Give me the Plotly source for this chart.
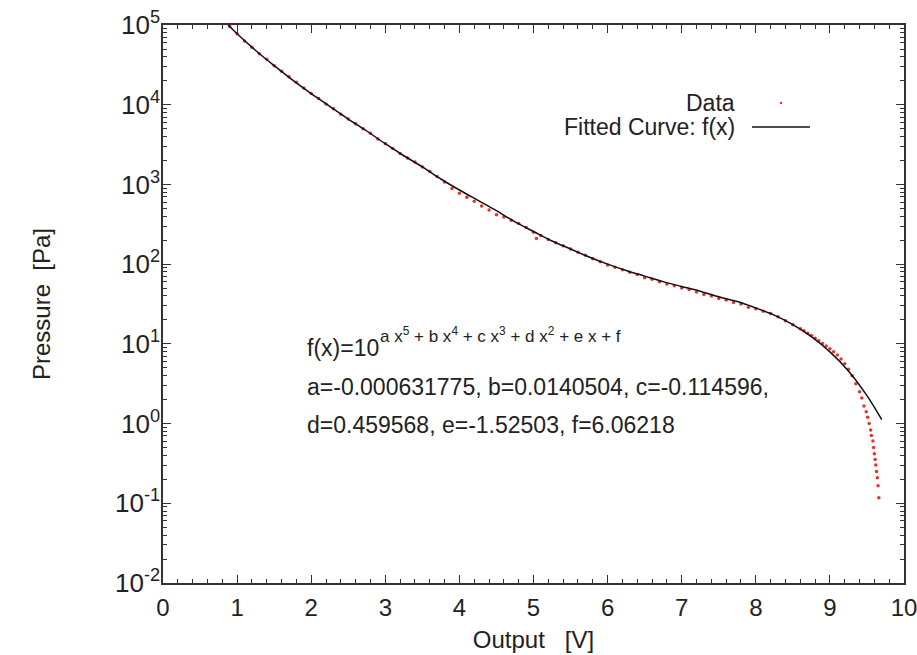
import plotly.graph_objects as go

# ---------------- data ----------------
data_x = [0.9, 1.0, 1.1, 1.2, 1.3, 1.4, 1.5, 1.6, 1.7, 1.8, 1.9, 2.0, 2.1, 2.2, 2.3, 2.4,
          2.5, 2.6, 2.7, 2.8, 2.9, 3.0, 3.1, 3.2, 3.3, 3.4, 3.5, 3.6, 3.7, 3.8, 3.9, 4.0,
          4.1, 4.2, 4.3, 4.4, 4.5, 4.6, 4.7, 4.8, 4.9, 5.0, 5.04, 5.1, 5.2, 5.3, 5.4, 5.5,
          5.6, 5.7, 5.8, 5.9, 6.0, 6.1, 6.2, 6.3, 6.4, 6.5, 6.6, 6.7, 6.8, 6.9, 7.0, 7.1,
          7.2, 7.3, 7.4, 7.5, 7.6, 7.7, 7.8, 7.9, 8.0, 8.1, 8.2, 8.3, 8.4, 8.5, 8.6, 8.65,
          8.7, 8.75, 8.8, 8.85, 8.9, 8.95, 9.0, 9.05, 9.1, 9.15, 9.2, 9.25, 9.3, 9.35, 9.4,
          9.43, 9.46, 9.49, 9.51, 9.53, 9.55, 9.56, 9.58, 9.59, 9.60, 9.61, 9.62, 9.63, 9.64,
          9.65, 9.66]
data_p = [95500, 77600, 63100, 52500, 43700, 37200, 30900, 26300, 22400, 19100, 16200,
          13800, 12000, 10200, 8910, 7590, 6610, 5750, 5010, 4370, 3720, 3240, 2820, 2450,
          2140, 1910, 1660, 1450, 1260, 1070, 891, 776, 692, 617, 537, 479, 417, 389, 355,
          324, 288, 251, 209, 229, 204, 186, 170, 155, 141, 129, 117, 107, 97.7, 91.2, 85.1,
          79.4, 74.1, 67.6, 64.6, 60.3, 56.2, 53.7, 50.1, 47.9, 44.7, 41.7, 39.8, 37.2, 35.5,
          33.1, 31.6, 28.8, 27.5, 25.7, 24.0, 21.9, 19.5, 17.4, 15.5, 14.6, 13.6, 12.7, 11.8,
          10.9, 10.1, 9.4, 8.71, 7.94, 7.24, 6.46, 5.62, 4.79, 3.98, 3.16, 2.51, 2.09, 1.66,
          1.41, 1.20, 1.00, 0.832, 0.708, 0.603, 0.501, 0.417, 0.355, 0.302, 0.251, 0.209,
          0.166, 0.117]

fit_x = [0.85, 1.0, 1.25, 1.5, 1.75, 2.0, 2.25, 2.5, 2.75, 3.0, 3.25, 3.5, 3.75, 4.0, 4.25,
         4.5, 4.75, 5.0, 5.25, 5.5, 5.75, 6.0, 6.25, 6.5, 6.75, 7.0, 7.25, 7.5, 7.75, 8.0,
         8.25, 8.5, 8.75, 9.0, 9.25, 9.5, 9.7]
fit_p = [107000, 77600, 47900, 30900, 20400, 13800, 9550, 6610, 4680, 3240, 2290, 1660,
         1170, 851, 631, 468, 339, 257, 195, 155, 123, 100, 83.2, 70.8, 60.3, 52.5, 45.7,
         38.9, 33.9, 28.2, 22.9, 17.4, 12.3, 7.94, 4.57, 2.24, 1.12]

x_tick_vals = [0, 1, 2, 3, 4, 5, 6, 7, 8, 9, 10]
y_tick_vals = [1e-2, 1e-1, 1e0, 1e1, 1e2, 1e3, 1e4, 1e5]
y_tick_text = ["10<sup>-2</sup>", "10<sup>-1</sup>", "10<sup>0</sup>", "10<sup>1</sup>",
               "10<sup>2</sup>", "10<sup>3</sup>", "10<sup>4</sup>", "10<sup>5</sup>"]

legend_data = "Data"
legend_fit = "Fitted Curve: f(x)"
formula_base = "f(x)=10"
formula_exp = "a x<sup>5</sup> + b x<sup>4</sup> + c x<sup>3</sup> + d x<sup>2</sup> + e x + f"
coef_line1 = "a=-0.000631775, b=0.0140504, c=-0.114596,"
coef_line2 = "d=0.459568, e=-1.52503, f=6.06218"

# ---------------- figure ----------------
FONT = "Liberation Sans, Arial, Helvetica, sans-serif"
AX = "#333333"
RED = "#e8322b"
TXT = "#222222"

fig = go.Figure()
fig.add_trace(go.Scatter(x=data_x, y=data_p, mode="markers", name=legend_data,
                         marker=dict(color=RED, size=3.5, line=dict(width=0)),
                         showlegend=False))
fig.add_trace(go.Scatter(x=fit_x, y=fit_p, mode="lines", name=legend_fit,
                         line=dict(color="#111111", width=1.5, shape="spline"),
                         showlegend=False))

minor_y = [m * 10 ** e for e in range(-2, 5) for m in range(2, 10)]

fig.update_xaxes(range=[0, 10], tickvals=x_tick_vals, ticks="inside", ticklen=8,
                 tickwidth=1.2, tickcolor=AX, showline=True, linecolor=AX, linewidth=1.5,
                 mirror="allticks", showgrid=False, zeroline=False, automargin=False,
                 ticklabelstandoff=2, ticklabeloverflow="allow",
                 tickfont=dict(family=FONT, size=24, color=TXT),
                 minor=dict(dtick=0.2, tick0=0, ticks="inside", ticklen=4, tickwidth=1,
                            tickcolor=AX, showgrid=False),
                 title=dict(text="Output\u00a0\u00a0\u00a0[V]", font=dict(family=FONT, size=24, color=TXT),
                            standoff=12))
fig.update_yaxes(type="log", range=[-2, 5], tickvals=y_tick_vals, ticktext=y_tick_text,
                 ticks="inside", ticklen=8, tickwidth=1.2, tickcolor=AX, showline=True,
                 linecolor=AX, linewidth=1.5, mirror="allticks", showgrid=False,
                 zeroline=False, automargin=False, ticklabelstandoff=-4,
                 ticklabeloverflow="allow",
                 tickfont=dict(family=FONT, size=26, color=TXT),
                 minor=dict(tickvals=minor_y, ticks="inside", ticklen=4, tickwidth=1,
                            tickcolor=AX, showgrid=False),
                 title=dict(text="Pressure\u00a0\u00a0[Pa]", font=dict(family=FONT, size=24, color=TXT),
                            standoff=58))

txt = dict(family=FONT, size=23, color=TXT)
ann = []
# key
ann.append(dict(x=0.7746, y=0.8602, xref="paper", yref="paper", text=legend_data,
                showarrow=False, xanchor="right", yanchor="middle", font=txt))
ann.append(dict(x=0.7746, y=0.8172, xref="paper", yref="paper", text=legend_fit,
                showarrow=False, xanchor="right", yanchor="middle", font=txt))
# formula text
ann.append(dict(x=0.1916, y=0.4211, xref="paper", yref="paper", text=formula_base,
                showarrow=False, xanchor="left", yanchor="middle", font=txt))
ann.append(dict(x=0.2895, y=0.4450, xref="paper", yref="paper", text=formula_exp,
                showarrow=False, xanchor="left", yanchor="middle",
                font=dict(family=FONT, size=17, color=TXT)))
ann.append(dict(x=0.1916, y=0.3513, xref="paper", yref="paper", text=coef_line1,
                showarrow=False, xanchor="left", yanchor="middle", font=txt))
ann.append(dict(x=0.1916, y=0.2832, xref="paper", yref="paper", text=coef_line2,
                showarrow=False, xanchor="left", yanchor="middle", font=txt))

shapes = [
    dict(type="line", xref="paper", yref="paper", x0=0.7949, x1=0.8731, y0=0.8172, y1=0.8172,
         line=dict(color="#111111", width=1.5)),
    dict(type="circle", xref="paper", yref="paper", x0=0.8323, x1=0.8357, y0=0.8578, y1=0.8626,
         fillcolor=RED, line=dict(width=0)),
]

fig.update_layout(width=917, height=655, paper_bgcolor="white", plot_bgcolor="white",
                  margin=dict(l=163, r=13, t=25, b=72), annotations=ann, shapes=shapes,
                  font=dict(family=FONT, color=TXT))

fig.write_html("out.html", config={"displayModeBar": False},
               post_script="document.body.style.margin='0';document.body.style.overflow='hidden';")
